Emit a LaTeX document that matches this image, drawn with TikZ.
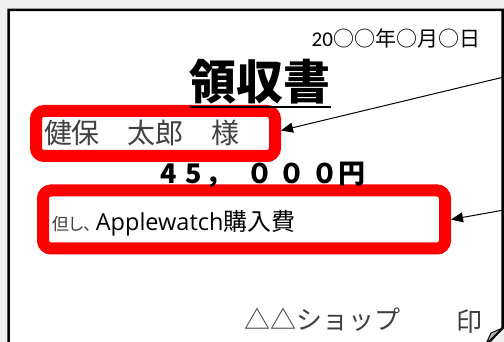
\documentclass[tikz,border=0pt]{standalone}
\usepackage{fontspec}
\usetikzlibrary{arrows.meta}
\newfontfamily\cjk{Noto Sans CJK JP}
\newfontfamily\cjkp[RawFeature=+palt]{Noto Sans CJK JP}
\newfontfamily\latn{Open Sans}
\newfontfamily\carl{Carlito}
\newcommand\fsz[1]{\fontsize{#1}{#1}\selectfont}
\definecolor{pagegray}{HTML}{F0F0F0}
\definecolor{txtgray}{HTML}{404040}
\definecolor{boxred}{HTML}{FF0000}
\definecolor{flapgray}{HTML}{B0B0B0}
\begin{document}
\begin{tikzpicture}[x=1pt,y=-1pt,
  redbox/.style={draw=boxred,line width=12pt,rounded corners=8pt,inner sep=0pt},
  txt/.style={inner sep=0pt,outer sep=0pt},
  arr/.style={-{Triangle[length=12pt,width=10pt]},line width=1pt}]
\useasboundingbox[fill=pagegray] (0,0) rectangle (504,342);
% page
\fill[white] (8.5,346) -- (8.5,10) -- (502.5,10) -- (502.5,328) -- (485,346) -- cycle;
\draw[line width=2.5pt,line join=miter] (8.5,346) -- (8.5,10) -- (502.5,10) -- (502.5,328) -- (485,346);
\filldraw[fill=flapgray,line width=1pt,line join=round] (502.5,328) -- (491,333) -- (486,344) -- cycle;
% red boxes
\node[redbox,minimum width=239pt,minimum height=45pt] (b1) at (155.5,133.5) {};
\node[redbox,minimum width=402pt,minimum height=58pt] (b2) at (244,219.5) {};
% texts
\node[txt,anchor=base east] (date) at (480,47) {\carl\fsz{21}20\cjk\fsz{21}○○年○月○日};
\node[txt,anchor=base] (title) at (260,100) {\cjk\bfseries\fsz{47}領収書};
\draw[line width=2pt] ([yshift=-7pt]title.base west) -- ([yshift=-7pt]title.base east);
\node[txt,anchor=base west,text=txtgray] (name) at (44,144) {\cjk\fsz{28}健保　太郎　様};
\node[txt,anchor=base west] (amount) at (168.5,184) {\cjk\bfseries\fsz{27}\makebox[0pt]{4}\hspace{25pt}\makebox[0pt]{5}\hspace{25.5pt}\makebox[0pt]{，}\hspace{41pt}\makebox[0pt]{０}\hspace{32.5pt}\makebox[0pt]{０}\hspace{32.5pt}\makebox[0pt]{０}\hspace{27pt}\makebox[0pt]{円}};
\node[txt,anchor=base west] (desc) at (52,231) {{\color{txtgray}\cjkp\fsz{17}但し、}\hspace{4pt}{\latn\fsz{23.5}Applewatch}{\cjk\fsz{24}購入費}};
\node[txt,anchor=base west,text=txtgray] (shop) at (244,330) {\cjk\fsz{26}△△ショップ};
\node[txt,anchor=base west,text=txtgray] (seal) at (456,331) {\cjk\fsz{26}印};
% arrows
\coordinate (s1) at (504,77);
\coordinate (s2) at (504,210);
\draw[arr] (s1) -- ([yshift=3pt]b1.east);
\draw[arr] (s2) -- (b2.east);
\end{tikzpicture}
\end{document}
